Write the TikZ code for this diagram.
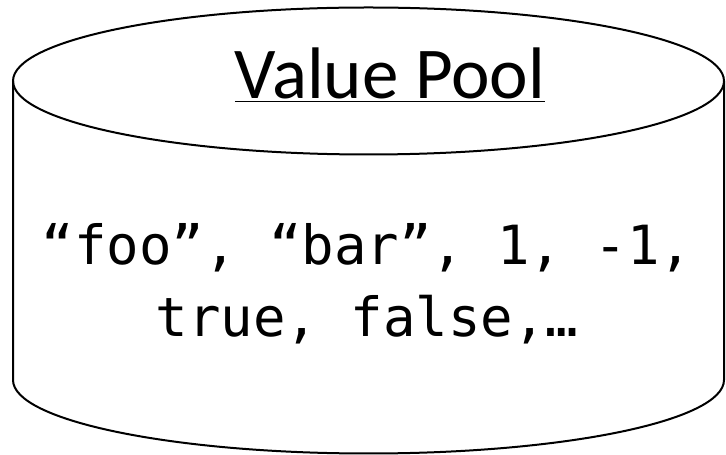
\documentclass[tikz,border=0pt]{standalone}
\usepackage{fontspec}
\setmainfont{Carlito}
\newfontfamily\poolmono{DejaVu Sans Mono}
\usetikzlibrary{positioning}

\begin{document}
\begin{tikzpicture}[x=1pt, y=1pt,
        rim/.style={line width=2pt, black},
        titlenode/.style={font=\fontsize{73}{80}\selectfont, inner sep=0pt, anchor=base},
        valnode/.style={font=\poolmono\fontsize{54}{72}\selectfont, inner sep=0pt, anchor=base}
    ]
        \useasboundingbox (0,0) rectangle (726,455);

        % cylinder: body, then top face
        \draw[rim] (13,374) -- (13,75)
            arc[start angle=180, end angle=360, x radius=355.5, y radius=73.5]
            -- (724,374);
        \draw[rim] (368.5,374) ellipse[x radius=355.5, y radius=73.5];

        \node[titlenode] (title) at (390,356) {\underline{Value Pool}};

        \node[valnode] (vals1) at (367,190) {“foo”, “bar”, 1, -1,};
        \node[valnode] (vals2) at ([yshift=-72pt]vals1.base) {true, false,…};
    \end{tikzpicture}
\end{document}
